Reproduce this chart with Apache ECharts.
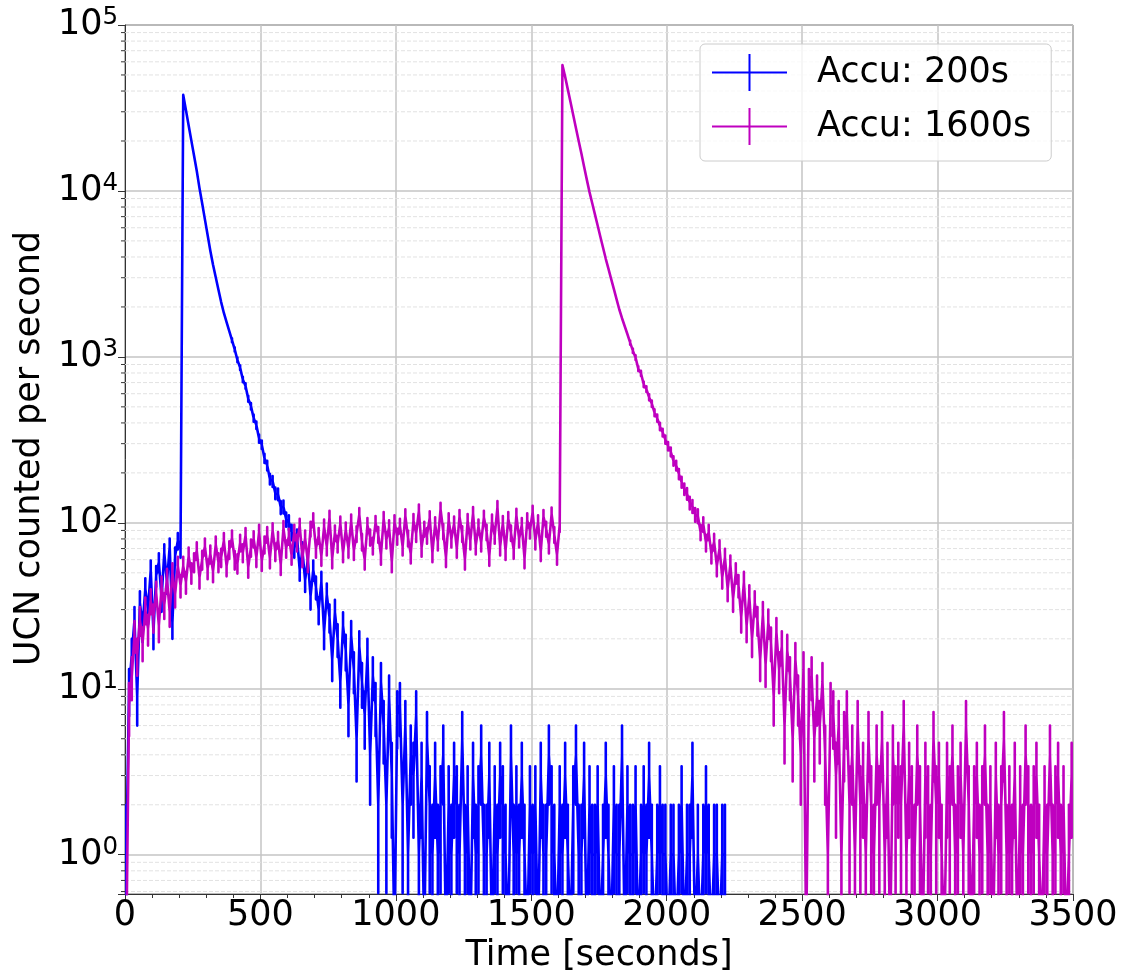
<!DOCTYPE html>
<html><head><meta charset="utf-8">
<script src="https://cdn.jsdelivr.net/npm/echarts@6/dist/echarts.min.js"></script>
<style>html,body{margin:0;padding:0;background:#fff}#c{width:1122px;height:978px}</style>
</head><body><div id="c"></div>
<script>
// ---------------- data ----------------
const seriesNames = ['Accu: 200s', 'Accu: 1600s'];
const T0 = 5, DT = 10;            // time of first sampled 1-s bin, spacing of samples (s)
// UCN counts in sampled 1-s bins, read off the picture
const blueCounts = [
  1, 10, 16, 26, 9, 33, 24, 40, 30, 52, 22, 48, 58, 35, 66, 44, 72, 25, 63, 78, 70,
  37900, 30700, 24800, 20100, 16300, 13200, 10400, 8400, 6740, 5420, 4360, 3590, 3020, 2540, 2140, 1840, 1620, 1430, 1260, 1110,
  960, 862, 731, 668, 560, 505, 428, 388, 322, 296, 245, 222, 184, 178, 151, 149, 124, 125, 105, 101,
  88, 70, 82, 52, 68, 45, 60, 36, 52, 41, 30, 44, 22, 37, 27, 15, 29, 20, 11, 24,
  17, 8, 21, 13, 5, 18, 11, 7, 16, 4, 12, 8, 2, 11, 6, 2, 9, 3, 0, 7,
  8, 2, 6, 1, 4, 3, 7, 1, 3, 0, 5, 2, 1,
  3, 1, 2, 4, 0, 2, 1, 3, 2, 1, 5, 1,
  2, 0, 3, 1, 2, 4, 1, 1, 3, 0, 2,
  1, 3, 2, 1, 0, 4, 1, 2, 1, 3, 1, 0, 2,
  1, 2, 0, 3, 1, 1, 4, 2, 1, 0, 2, 1, 3,
  1, 0, 2, 4, 1, 1, 3, 0, 2, 1, 1, 2, 0,
  1, 3, 1, 0, 2, 1, 1, 4, 0, 2, 1, 1, 2,
  0, 1, 2, 1, 3, 1, 0, 1, 2, 1, 1,
  0, 1, 1, 0, 1, 2, 0, 1, 1, 3, 0, 1, 0, 1, 2, 1, 0, 1, 1, 0, 1, 1
];
const magentaCounts = [
  0, 8, 12, 21, 16, 26, 19, 30, 23, 34, 27, 38, 24, 41, 32, 46, 29, 50, 37, 55, 42,
  55, 44, 63, 50, 58, 68, 47, 60, 72, 53,
  65, 51, 74, 58, 62, 78, 55, 69, 81, 60,
  57, 76, 66, 84, 54, 71, 80, 62, 88, 59,
  74, 85, 61, 90, 67, 79, 56, 93, 70, 83,
  64, 88, 76, 96, 62, 81, 58, 92, 104, 70,
  84, 63, 95, 72, 108, 61, 87, 75, 99, 66,
  91, 70, 102, 68, 86, 112, 77, 60, 97, 82,
  73, 100, 85, 64, 106, 79, 94, 58, 101, 83,
  96, 72, 110, 81, 65, 103, 86, 118, 71, 92,
  84, 107, 66, 98, 77, 121, 89, 62, 104, 80,
  99, 70, 109, 86, 60, 103, 78, 114, 73, 95,
  76, 108, 88, 63, 102, 84, 124, 72, 100, 68,
  106, 87, 69, 111, 80, 97, 61, 104, 90, 116,
  78, 101, 67, 109, 92, 74, 113, 85, 64, 98,
  57300,
  48800, 40800, 34200, 28600, 23900, 20000, 16800, 14000, 11700, 9840,
  8430, 7220, 6190, 5300, 4550, 3900, 3390, 2940, 2560, 2220,
  1930, 1710, 1530, 1370, 1220, 1090, 990, 850, 795, 684,
  640, 571, 522, 461, 428, 381, 350, 318, 290, 268, 236, 222, 197,
  176, 160, 150, 132, 126, 112, 110, 88, 98, 76,
  88, 65, 77, 55, 70, 47, 62, 40, 56, 35,
  50, 42, 27, 44, 24, 36, 20, 33, 26, 15,
  28, 14, 25, 19, 9, 22, 13, 18, 6, 17,
  12, 5, 15, 9, 4, 13, 0,
  10, 12, 5, 9, 6, 11, 4, 1, 8, 7, 3, 6, 1, 5, 7, 2, 4, 1, 6, 2, 3, 1, 5, 2,
  1, 4, 2, 5, 1, 3, 0, 4, 2, 3,
  2, 6, 1, 3, 2, 1, 4, 2, 0, 3,
  2, 1, 5, 2, 3, 1, 0, 3, 2, 4,
  1, 2, 3, 1, 6, 2, 0, 2, 3, 1,
  2, 4, 1, 2, 0, 3, 1, 2, 5, 1,
  2, 1, 3, 0, 2, 1, 4, 2, 1, 2,
  3, 1, 0, 2, 1, 4, 1, 2, 3, 1,
  2, 0, 1, 3
];
const xMin = 0, xMax = 3500, xInterval = 500;
const yMin = 0.58, yMax = 100000;
const yMinorTicks = [];
for (let e = -1; e < 5; e++) for (let m = 2; m <= 9; m++) {
  const v = +(m * Math.pow(10, e)).toPrecision(3);
  if (v >= yMin && v < yMax) yMinorTicks.push(v);
}

// ---------------- chart ----------------
const FONT = 'DejaVu Sans';
const BLUE = '#0000ff', MAG = '#bf00bf';
const ZERO_FLOOR = 0.3; // log axis cannot show 0: draw it below the axis minimum (clipped)
const ICON = 'path://M0,17.5L75,17.5L75,19.5L0,19.5Z M36.5,0L38.5,0L38.5,37L36.5,37Z';

// Line through the counts, with a vertical Poisson error bar (n ± sqrt(n)) traced at every sample
function toLineWithErr(counts) {
  const out = [];
  counts.forEach((n, i) => {
    const t = T0 + DT * i;
    if (!(n > 0)) { out.push([t, ZERO_FLOOR]); return; }
    const e = Math.sqrt(n);
    out.push([t, n], [t, n + e], [t, Math.max(n - e, ZERO_FLOOR)], [t, n]);
  });
  return out;
}
function minorRender(params, api) {
  const y = api.coord([0, api.value(1)])[1];
  const cs = params.coordSys;
  return { type: 'group', children: [
    { type: 'line', shape: { x1: cs.x, y1: y, x2: cs.x + cs.width, y2: y },
      style: { stroke: '#e2e2e2', lineWidth: 1, lineDash: [4, 2] } },
    { type: 'line', shape: { x1: cs.x - 4, y1: y, x2: cs.x, y2: y },
      style: { stroke: '#333', lineWidth: 1 } }
  ]};
}
function isPow10(v) { const l = Math.log10(v); return isFinite(l) && Math.abs(l - Math.round(l)) < 1e-6; }

const chart = echarts.init(document.getElementById('c'), null, { renderer: 'canvas' });
chart.setOption({
  animation: false,
  backgroundColor: '#ffffff',
  grid: { left: 125, top: 25, right: 49, bottom: 77, show: true, borderColor: '#333', borderWidth: 1, backgroundColor: 'transparent' },
  legend: {
    orient: 'vertical', left: 700, top: 44, padding: [10, 20, 16, 12],
    itemWidth: 75, itemHeight: 37, itemGap: 17,
    backgroundColor: 'rgba(255,255,255,0.8)', borderColor: '#cccccc', borderWidth: 1, borderRadius: 5,
    textStyle: { fontFamily: FONT, fontSize: 35, color: '#000', padding: [0, 0, 0, 25] },
    itemStyle: { borderWidth: 0 },
    selectedMode: false,
    data: [{ name: seriesNames[0], icon: ICON }, { name: seriesNames[1], icon: ICON }]
  },
  xAxis: {
    type: 'value', min: xMin, max: xMax, interval: xInterval,
    name: 'Time [seconds]', nameLocation: 'middle', nameGap: 44,
    nameTextStyle: { fontFamily: FONT, fontSize: 35, color: '#000', lineHeight: 35 },
    axisLine: { show: true, onZero: false, lineStyle: { color: '#333', width: 1 } },
    axisTick: { show: true, length: 7, lineStyle: { color: '#333', width: 1 } },
    minorTick: { show: true, splitNumber: 5, length: 4, lineStyle: { color: '#333', width: 1 } },
    axisLabel: { fontFamily: FONT, fontSize: 35, color: '#000', margin: 4, lineHeight: 35, formatter: v => String(v) },
    splitLine: { show: true, lineStyle: { color: '#c4c4c4', width: 1.5 } },
    minorSplitLine: { show: false }
  },
  yAxis: {
    type: 'log', logBase: 10, min: yMin, max: yMax,
    name: 'UCN counted per second', nameLocation: 'middle', nameGap: 76,
    nameTextStyle: { fontFamily: FONT, fontSize: 35, color: '#000', lineHeight: 35, padding: [0, 0, 0, 22] },
    axisLine: { show: true, lineStyle: { color: '#333', width: 1 } },
    axisTick: { show: true, length: 7, lineStyle: { color: '#333', width: 1 } },
    minorTick: { show: false },
    axisLabel: {
      margin: 7,
      formatter: function (v) { if (!isPow10(v)) return ''; return '{b|10}{s|' + Math.round(Math.log10(v)) + '}'; },
      rich: {
        b: { fontFamily: FONT, fontSize: 35, color: '#000', lineHeight: 40, verticalAlign: 'middle' },
        s: { fontFamily: FONT, fontSize: 24.5, color: '#000', lineHeight: 24, verticalAlign: 'top' }
      }
    },
    splitLine: { show: true, lineStyle: { color: '#c4c4c4', width: 1.5 } }
  },
  series: [
    { type: 'custom', name: 'minor', data: yMinorTicks.map(v => [0, v]), renderItem: minorRender, z: 1, silent: true, clip: false },
    { name: seriesNames[0], type: 'line', data: toLineWithErr(blueCounts), symbol: 'none', showSymbol: false, clip: true,
      sampling: null, color: BLUE, lineStyle: { color: BLUE, width: 2.6, join: 'round' }, itemStyle: { color: BLUE }, z: 3 },
    { name: seriesNames[1], type: 'line', data: toLineWithErr(magentaCounts), symbol: 'none', showSymbol: false, clip: true,
      sampling: null, color: MAG, lineStyle: { color: MAG, width: 2.6, join: 'round' }, itemStyle: { color: MAG }, z: 4 }
  ]
});
</script></body></html>
